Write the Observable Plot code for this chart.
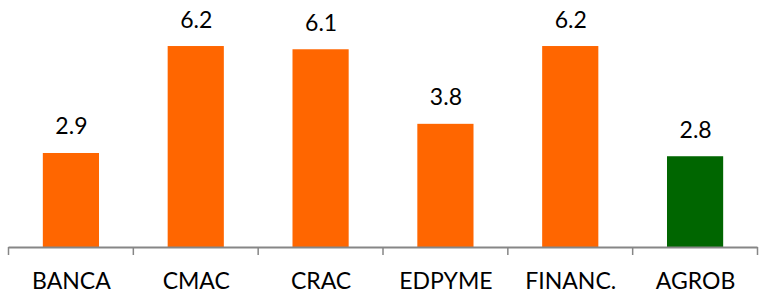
<!DOCTYPE html>
<html>
<head>
<meta charset="utf-8">
<script src="https://cdn.jsdelivr.net/npm/d3@7"></script>
<script src="https://cdn.jsdelivr.net/npm/@observablehq/plot@0.6"></script>
<style>
  html, body { margin: 0; padding: 0; background: #ffffff; }
  #chart svg { display: block; }
</style>
</head>
<body>
<div id="chart"></div>
<script>
const categories = ["BANCA", "CMAC", "CRAC", "EDPYME", "FINANC.", "AGROB"];
const values = [2.9, 6.2, 6.1, 3.8, 6.2, 2.8];
const groups = ["sistema", "sistema", "sistema", "sistema", "sistema", "agrobanco"];

const data = categories.map((c, i) => ({cat: c, value: values[i], group: groups[i]}));
const FONT = "Lato, 'Open Sans', sans-serif";

const chart = Plot.plot({
  width: 759,
  height: 303,
  marginTop: 0,
  marginBottom: 56,
  marginLeft: 8.5,
  marginRight: 1.5,
  style: {fontFamily: FONT, fontSize: "23px", color: "#000", background: "#fff"},
  x: {domain: categories, paddingInner: 0.55, paddingOuter: 0.275, round: false, label: null},
  y: {domain: [0, 7.62], axis: null},
  color: {domain: ["sistema", "agrobanco"], range: ["#FF6600", "#006600"]},
  marks: [
    Plot.barY(data, {x: "cat", y: "value", fill: "group"}),
    Plot.ruleY([0], {stroke: "#868686", strokeWidth: 2}),
    Plot.text(data, {x: "cat", y: "value", text: d => d.value.toFixed(1), lineAnchor: "bottom", dy: -19, fontSize: 23, fill: "#000"}),
    Plot.axisX({tickSize: 0, tickPadding: 25, fontSize: 23, fill: "#000", label: null})
  ]
});

document.getElementById("chart").appendChild(chart);

// boundary tick marks between categories, positioned from Plot's x scale
const xs = chart.scale("x");
const ys = chart.scale("y");
const half = xs.step * xs.paddingInner / 2;
const edges = categories.map(c => xs.apply(c) - half);
edges.push(xs.apply(categories[categories.length - 1]) + xs.bandwidth + half);
const y0 = ys.apply(0);
d3.select(chart).append("g")
  .attr("stroke", "#868686").attr("stroke-width", 1.5)
  .selectAll("line").data(edges).join("line")
  .attr("x1", d => d).attr("x2", d => d)
  .attr("y1", y0).attr("y2", y0 + 8);
</script>
</body>
</html>
